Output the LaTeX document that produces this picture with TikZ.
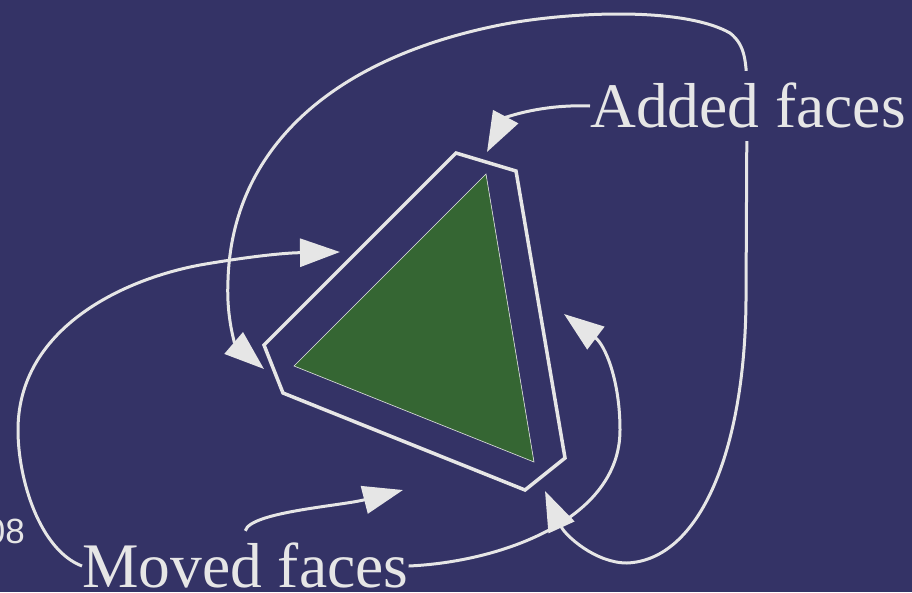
\documentclass[tikz,border=0pt]{standalone}
\usepackage{fontspec}
\setmainfont{Liberation Serif}
\newfontfamily\numfont{Liberation Sans}
\usetikzlibrary{arrows.meta}
\definecolor{bgblue}{RGB}{52,51,102}
\definecolor{facegreen}{RGB}{53,102,51}
\definecolor{linew}{RGB}{230,230,230}
\begin{document}
\begin{tikzpicture}[x=1pt,y=-1pt,
  bigtip/.tip={Triangle[length=40pt,width=28pt]},
  conn/.style={draw=linew,line width=3pt,-bigtip},
  loopconn/.style={draw=linew,line width=3pt,bigtip-bigtip},
  lbl/.style={text=linew,inner sep=0pt,font=\fontsize{63.5}{70}\selectfont,text height=56pt,text depth=14pt},
  outline/.style={draw=linew,line width=3.5pt,line join=miter},
  face/.style={fill=facegreen,draw=linew,line width=0.6pt},
]
\fill[bgblue] (0,0) rectangle (912,592);
\useasboundingbox (0,0) rectangle (912,592);

% green face and outline of added faces
\path[face] (486,174) -- (294,366) -- (534,462) -- cycle;
\path[outline] (456,153) -- (516,171) -- (565,458) -- (525,490) -- (283,393) -- (264,345) -- cycle;

% arrow tip targets
\coordinate (tipAdd) at (487,152);
\coordinate (tipL) at (264,369);
\coordinate (tipB) at (545,491);
\coordinate (tipA) at (340,252);
\coordinate (tipM) at (403,490);
\coordinate (tipR) at (564,314);

% big loop (behind the label)
\draw[loopconn] (tipL) .. controls (236,345) and (226,320) .. (228,280)
  .. controls (232,150) and (330,59) .. (500,25)
  .. controls (560,13) and (680,5) .. (730,33)
  .. controls (745,45) and (747,60) .. (747,100)
  -- (746,300)
  .. controls (745,450) and (700,560) .. (627,563)
  .. controls (595,563) and (565,535) .. (tipB);

% labels
\node[lbl,fill=bgblue,anchor=base west] (added) at (590,127) {Added faces};
\node[lbl,anchor=base west] (moved) at (82,587) {Moved faces};
\node[text=linew,inner sep=0pt,anchor=base east,font=\numfont\fontsize{35}{40}\selectfont] (num) at (25,543) {08};

% connectors
\draw[conn] (added.west) .. controls (540,104) and (505,118) .. (tipAdd);
\draw[conn] (moved.west) .. controls (40,550) and (18,480) .. (18,430)
  .. controls (18,330) and (120,280) .. (200,265)
  .. controls (240,258) and (280,253) .. (tipA);
\draw[conn] (moved.north) .. controls (250,512) and (340,506) .. (tipM);
\draw[conn] (moved.east) .. controls (500,562) and (620,520) .. (620,430)
  .. controls (620,380) and (605,345) .. (tipR);
\end{tikzpicture}
\end{document}
